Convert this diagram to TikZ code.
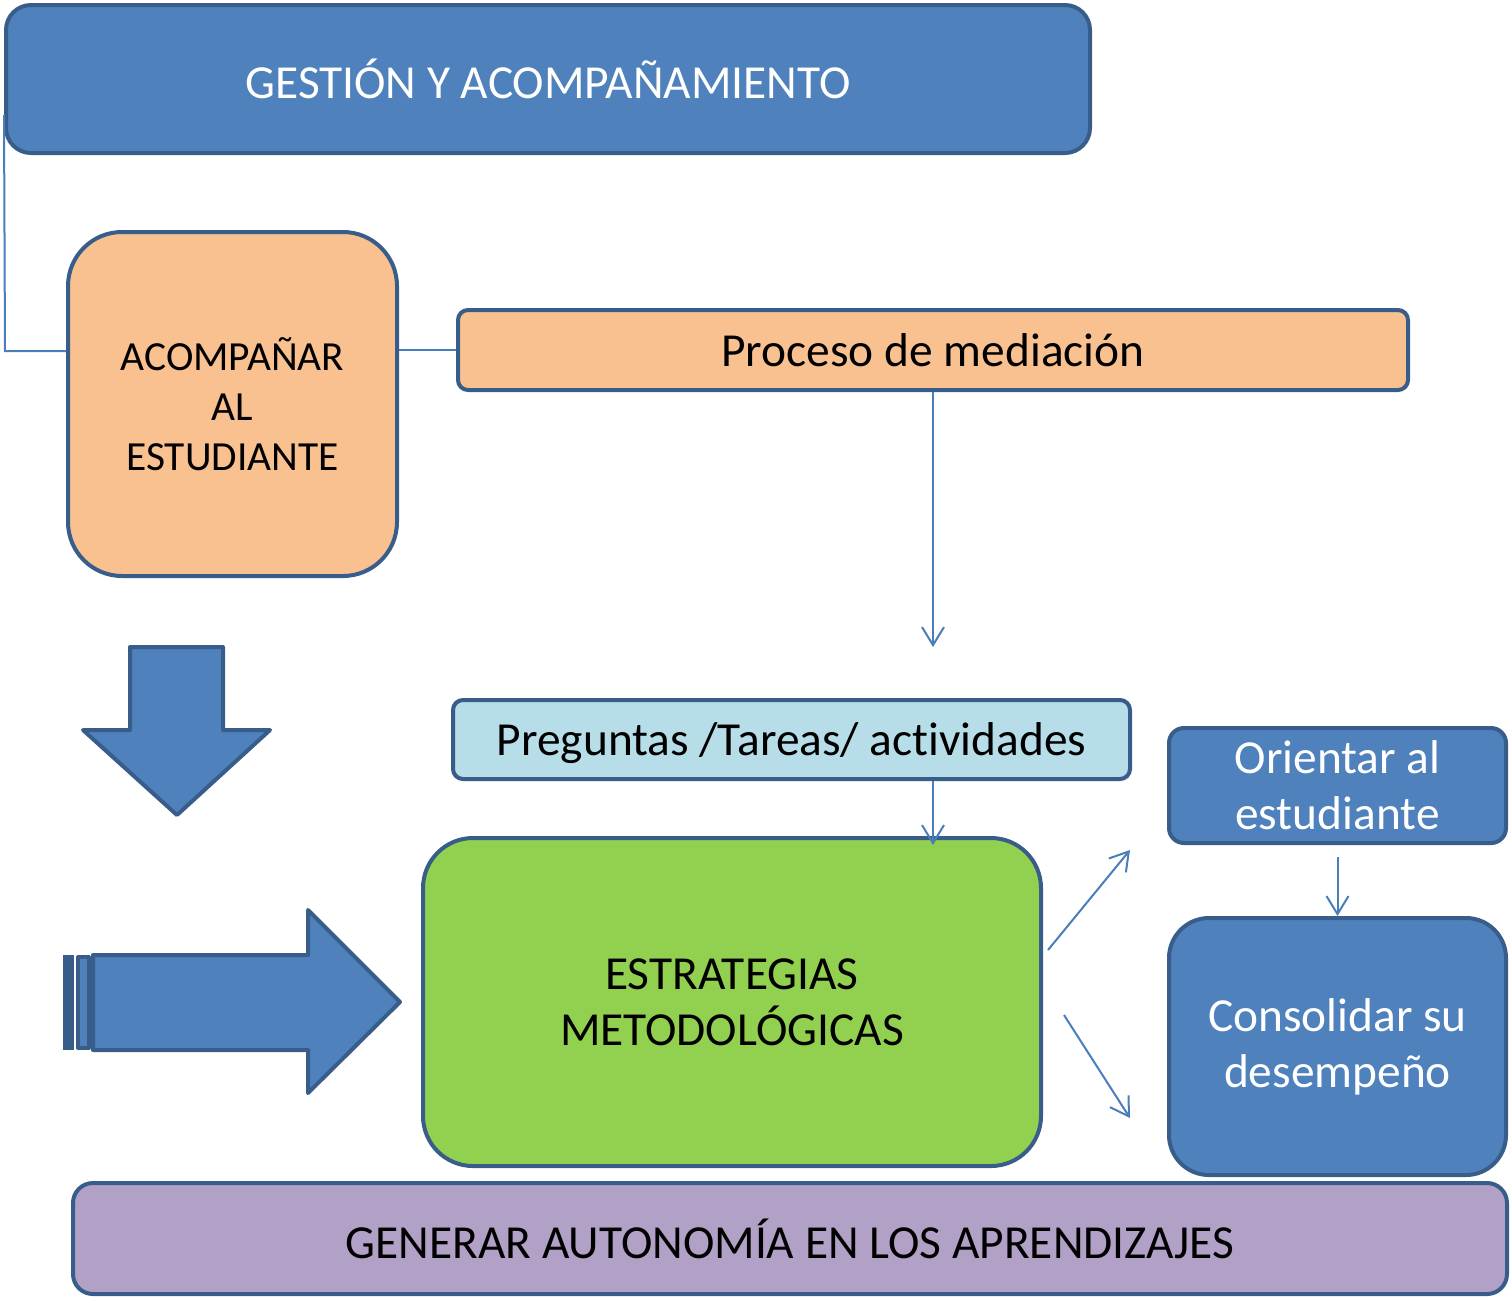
\documentclass[tikz,border=0pt]{standalone}
\usepackage{fontspec}
\setmainfont{Carlito}[Ligatures=NoCommon]
\usetikzlibrary{arrows.meta}
\definecolor{azul}{HTML}{4F81BD}
\definecolor{borde}{HTML}{385D8A}
\definecolor{linea}{HTML}{4A7EBB}
\definecolor{naranja}{HTML}{F9C18F}
\definecolor{celeste}{HTML}{B7DEE8}
\definecolor{verde}{HTML}{92D050}
\definecolor{lila}{HTML}{B2A1C7}

\begin{document}
\begin{tikzpicture}[x=0.5pt,y=-0.5pt,
	every node/.style={draw=borde,line width=2pt,align=center,inner sep=0pt,font=\fontsize{23.7}{28}\selectfont},
	flecha/.style={draw=linea,line width=1pt,-{Straight Barb[length=9pt,width=11pt]}},
	bloque/.style={draw=borde,fill=azul,line width=2pt,line join=round}]
	\useasboundingbox (0,0) rectangle (1511,1298);

	\node[fill=azul,text=white,rounded corners=12.5pt,minimum width=542pt,minimum height=74pt] (Gestion) at (548,79) {GESTIÓN Y ACOMPAÑAMIENTO};
	\node[fill=naranja,rounded corners=27pt,minimum width=164.5pt,minimum height=172pt,font=\fontsize{20.7}{25}\selectfont] (Acomp) at (232.5,404) {ACOMPAÑAR\\AL\\ESTUDIANTE};
	\node[fill=naranja,rounded corners=5pt,minimum width=475pt,minimum height=40pt,text depth=0pt] (Proceso) at (933,350) {Proceso de mediación};
	\node[fill=celeste,rounded corners=5pt,minimum width=338.5pt,minimum height=39.5pt,text depth=0pt] (Preguntas) at (791.5,739.5) {Preguntas /Tareas/ actividades};
	\node[fill=verde,rounded corners=25pt,minimum width=309pt,minimum height=164pt] (Estrat) at (732,1002) {ESTRATEGIAS\\METODOLÓGICAS};
	\node[fill=azul,text=white,rounded corners=7.5pt,minimum width=168.5pt,minimum height=57.5pt] (Orientar) at (1337.5,785.5) {Orientar al\\estudiante};
	\node[fill=azul,text=white,rounded corners=20pt,minimum width=168.5pt,minimum height=128.5pt] (Consol) at (1337.5,1046.5) {Consolidar su\\desempeño};
	\node[fill=lila,rounded corners=10pt,minimum width=717pt,minimum height=55.5pt] (Generar) at (790,1238.5) {GENERAR AUTONOMÍA EN LOS APRENDIZAJES};

	% block arrows
	\draw[bloque] (130,647) -- (223,647) -- (223,730) -- (270,730) -- (177,815) -- (83,730) -- (130,730) -- cycle;
	\draw[bloque] (93,955) -- (308,955) -- (308,910) -- (400,1002) -- (308,1093) -- (308,1050) -- (93,1050) -- cycle;
	\fill[borde] (63,955) rectangle (74,1050);
	\draw[bloque] (78,957) rectangle (89,1048);

	\coordinate (Codo) at (5,351);
	\coordinate (Medio) at (933,647);
	\coordinate (SalA) at (1048,950);
	\coordinate (LlegA) at (1130,850);
	\coordinate (SalB) at (1064,1015);
	\coordinate (LlegB) at (1130,1118);

	\draw[linea,line width=1pt] ([yshift=-18pt]Gestion.west) -- (Codo) -- (Codo -| Acomp.west);
	\draw[linea,line width=1pt] (Proceso.west) -- (Proceso.west -| Acomp.east);
	\path[every edge/.style={flecha}]
		(Proceso) edge (Medio)
		(Preguntas.south -| Medio) edge ([yshift=-4.5pt]Estrat.north -| Medio)
		([yshift=-6pt]Orientar.south) edge (Consol.north)
		(SalA) edge (LlegA)
		(SalB) edge (LlegB);
\end{tikzpicture}
\end{document}
